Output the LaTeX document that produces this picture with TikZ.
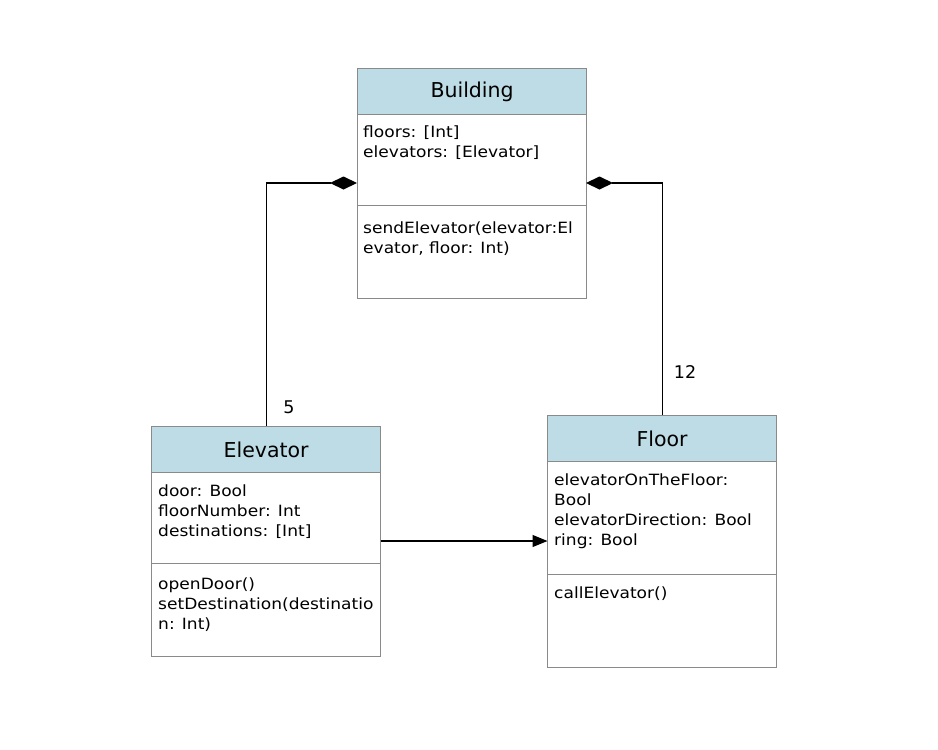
\documentclass[tikz,border=0pt]{standalone}
\usepackage{fontspec}
\setmainfont{DejaVu Sans}
\newfontfamily\bodyfont[FakeStretch=1.1]{DejaVu Sans}
\usetikzlibrary{arrows.meta}
\definecolor{hdr}{HTML}{BEDCE5}
\definecolor{bord}{HTML}{8A8A8A}
\tikzset{
  cls/.style={rectangle, minimum width=229pt, minimum height=#1, inner sep=0pt, outer sep=0pt},
  hdrbox/.style={rectangle, draw=bord, fill=hdr, line width=1.2pt, minimum width=229pt, minimum height=46pt, inner sep=0pt, anchor=north west, font=\fontsize{20.5}{24}\selectfont},
  compbox/.style={rectangle, draw=bord, fill=white, line width=1.2pt, minimum width=229pt, minimum height=#1, inner sep=0pt, anchor=north west},
  txt/.style={anchor=north west, inner sep=0pt, align=left, font=\bodyfont\fontsize{15.5}{20}\selectfont},
  conn/.style={line width=1.1pt, black},
  lbl/.style={font=\fontsize{17.5}{20}\selectfont, inner sep=0pt}
}
\begin{document}
\begin{tikzpicture}[x=1pt,y=-1pt]
\useasboundingbox (0,0) rectangle (938,750);
% Building
\node[cls=230pt] (B) at (471.5,183) {};
\node[compbox=93pt] (bm) at (357,205) {};
\node[compbox=91pt] (ba) at (357,114) {};
\node[hdrbox] (bh) at (357,68) {Building};
\node[txt] (bat) at (363,126) {floors: [Int]\\elevators: [Elevator]};
\node[txt] (bmt) at (363,222) {sendElevator(elevator:El\\evator, floor: Int)};
% Elevator
\node[cls=230pt] (E) at (266,541) {};
\node[compbox=93pt] (em) at (151,563) {};
\node[compbox=92pt] (ea) at (151,471) {};
\node[hdrbox] (eh) at (151,426) {Elevator};
\node[txt] (eat) at (158,485) {door: Bool\\floorNumber: Int\\destinations: [Int]};
\node[txt] (emt) at (158,578) {openDoor()\\setDestination(destinatio\\n: Int)};
% Floor
\node[cls=252pt] (F) at (662,541) {};
\node[compbox=93pt] (fm) at (547,574) {};
\node[compbox=114pt] (fa) at (547,460) {};
\node[hdrbox] (fh) at (547,415) {Floor};
\node[txt] (fat) at (554,474) {elevatorOnTheFloor:\\Bool\\elevatorDirection: Bool\\ring: Bool};
\node[txt] (fmt) at (554,587) {callElevator()};
% connectors
\draw[conn, -{Diamond[length=27pt,width=13pt]}] (eh.north) |- (B.west);
\draw[conn, -{Diamond[length=27pt,width=13pt]}] (fh.north) |- (B.east);
\draw[conn, -{Triangle[length=15pt,width=12pt]}] (E.east) -- (F.west);
\node[lbl] (l5) at (289,407) {5};
\node[lbl] (l12) at (685,372) {12};
\end{tikzpicture}
\end{document}
